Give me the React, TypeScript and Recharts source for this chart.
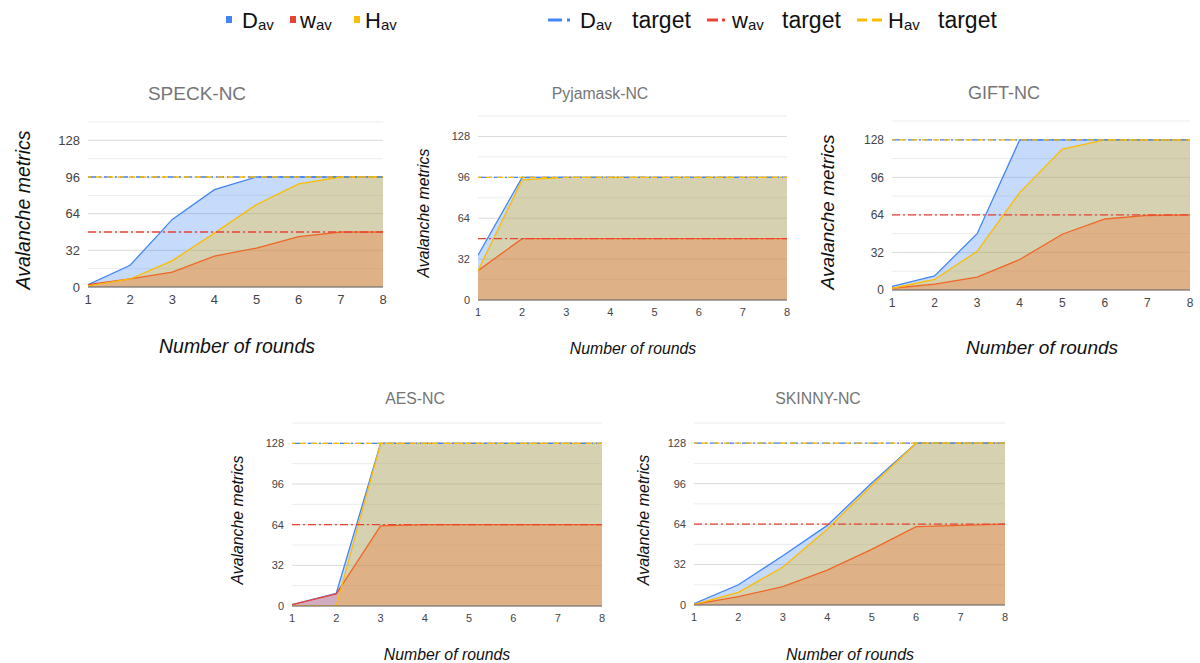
import React from 'react';
import { ComposedChart, Area, Line, XAxis, YAxis, CartesianGrid } from 'recharts';

const rounds = [1, 2, 3, 4, 5, 6, 7, 8];
const yTicks = [0, 32, 64, 96, 128];
const minorGrid = [16, 48, 80, 112, 144];

const speckD = [2, 19, 59, 85, 96, 96, 96, 96];
const speckW = [2, 7, 13, 27, 34, 44, 48, 48];
const speckH = [1, 7, 23, 47, 72, 90, 96, 96];
const speckTargets = [96, 48, 96];

const pyjD = [35, 96, 96, 96, 96, 96, 96, 96];
const pyjW = [23, 48, 48, 48, 48, 48, 48, 48];
const pyjH = [23, 94, 96, 96, 96, 96, 96, 96];
const pyjTargets = [96, 48, 96];

const giftD = [3, 12, 48, 128, 128, 128, 128, 128];
const giftW = [1.5, 5, 11, 26, 47.5, 60.5, 63.5, 64];
const giftH = [1.5, 9, 33, 83, 120, 128, 128, 128];
const giftTargets = [128, 64, 128];

const aesD = [1, 10, 128, 128, 128, 128, 128, 128];
const aesW = [1, 9.5, 63, 64, 64, 64, 64, 64];
const aesH = [0, 0, 128, 128, 128, 128, 128, 128];
const aesTargets = [128, 64, 128];

const skinnyD = [1, 16, 39, 63, 96.5, 128, 128, 128];
const skinnyW = [0.5, 6.6, 14.5, 27.6, 44, 62, 63, 64];
const skinnyH = [0.5, 10, 30, 60, 94.6, 128, 128, 128];
const skinnyTargets = [128, 64, 128];

const BLUE = '#4285f4';
const RED = '#ea4335';
const YELLOW = '#fbbc04';
const FONT = '"Liberation Sans", Arial, sans-serif';

const buildData = (D: number[], W: number[], H: number[], t: number[]) =>
  rounds.map((r, i) => ({ r, D: D[i], w: W[i], H: H[i], Dt: t[0], wt: t[1], Ht: t[2] }));

const panels = [
  { title: 'SPECK-NC', data: buildData(speckD, speckW, speckH, speckTargets), left: 88, right: 383, top: 122, bottom: 287, tickSize: 13, titleSize: 19, labelSize: 19.5, title_xy: [197, 93], ylab: [23, 210], xlab: [237, 346] },
  { title: 'Pyjamask-NC', data: buildData(pyjD, pyjW, pyjH, pyjTargets), left: 478, right: 787, top: 116, bottom: 300, tickSize: 11, titleSize: 15.8, labelSize: 15.8, title_xy: [600, 93], ylab: [423, 213], xlab: [633, 348] },
  { title: 'GIFT-NC', data: buildData(giftD, giftW, giftH, giftTargets), left: 892, right: 1190, top: 121, bottom: 290, tickSize: 12, titleSize: 18, labelSize: 19, title_xy: [1004, 93], ylab: [827, 212], xlab: [1042, 347] },
  { title: 'AES-NC', data: buildData(aesD, aesW, aesH, aesTargets), left: 292, right: 602, top: 423, bottom: 606, tickSize: 11, titleSize: 15.8, labelSize: 15.8, title_xy: [415, 398], ylab: [237, 520], xlab: [447, 654] },
  { title: 'SKINNY-NC', data: buildData(skinnyD, skinnyW, skinnyH, skinnyTargets), left: 694, right: 1005, top: 423, bottom: 605, tickSize: 11, titleSize: 15.8, labelSize: 16, title_xy: [818, 398], ylab: [643, 520], xlab: [850, 654] },
];

const ML = 50;
const XH = 26;
const MT = 4;
const MR = 4;

function Panel({ p }: { p: any }) {
  const w = p.right - p.left + ML + MR;
  const h = p.bottom - p.top + MT + XH;
  const tick = { fontSize: p.tickSize, fill: '#444', fontFamily: FONT };
  return (
    <div style={{ position: 'absolute', left: p.left - ML, top: p.top - MT }}>
      <ComposedChart width={w} height={h} data={p.data} margin={{ top: MT, right: MR, left: 0, bottom: 0 }}>
        <CartesianGrid vertical={false} horizontalValues={minorGrid} stroke="#ececec" />
        <CartesianGrid vertical={false} horizontalValues={yTicks} stroke="#dadada" />
        <XAxis dataKey="r" type="number" domain={[1, 8]} ticks={rounds} interval={0} tickLine={false}
          axisLine={{ stroke: '#666' }} tick={tick} height={XH} allowDataOverflow />
        <YAxis type="number" domain={[0, 144]} ticks={yTicks} interval={0} tickLine={false} axisLine={false}
          tick={tick} width={ML} allowDataOverflow />
        <Area type="linear" dataKey="D" stroke={BLUE} strokeWidth={1.3} fill={BLUE} fillOpacity={0.3} isAnimationActive={false} dot={false} activeDot={false} />
        <Area type="linear" dataKey="w" stroke={RED} strokeWidth={1.3} fill={RED} fillOpacity={0.3} isAnimationActive={false} dot={false} activeDot={false} />
        <Area type="linear" dataKey="H" stroke={YELLOW} strokeWidth={1.3} fill={YELLOW} fillOpacity={0.3} isAnimationActive={false} dot={false} activeDot={false} />
        <Line type="linear" dataKey="Dt" stroke={BLUE} strokeWidth={1.3} strokeDasharray="8 3 2 3" dot={false} activeDot={false} isAnimationActive={false} />
        <Line type="linear" dataKey="wt" stroke={RED} strokeWidth={1.3} strokeDasharray="8 3 2 3" dot={false} activeDot={false} isAnimationActive={false} />
        <Line type="linear" dataKey="Ht" stroke={YELLOW} strokeWidth={1.3} strokeDasharray="6 5" strokeDashoffset={3} dot={false} activeDot={false} isAnimationActive={false} />
      </ComposedChart>
    </div>
  );
}

function Sym({ x, y, main }: { x: number; y: number; main: string }) {
  return (
    <text x={x} y={y} fontFamily={FONT} fill="#111">
      <tspan fontSize={22}>{main}</tspan>
      <tspan fontSize={15} dy={2}>av</tspan>
    </text>
  );
}

export default function App() {
  return (
    <div style={{ position: 'absolute', left: 0, top: 0, width: 1200, height: 663, background: '#fff', overflow: 'hidden' }}>
      {panels.map((p) => (
        <Panel key={p.title} p={p} />
      ))}
      <svg width={1200} height={663} style={{ position: 'absolute', left: 0, top: 0, pointerEvents: 'none' }}>
        <rect x={226} y={16} width={6} height={7} fill={BLUE} />
        <Sym x={242} y={28} main="D" />
        <rect x={290} y={16} width={6} height={7} fill={RED} />
        <Sym x={300} y={28} main="w" />
        <rect x={354} y={16} width={6} height={7} fill={YELLOW} />
        <Sym x={365} y={28} main="H" />

        <line x1={548} y1={20} x2={562} y2={20} stroke={BLUE} strokeWidth={3} />
        <line x1={567} y1={20} x2={570} y2={20} stroke={BLUE} strokeWidth={3} />
        <Sym x={580} y={28} main="D" />
        <text x={632} y={28} fontFamily={FONT} fontSize={23} fill="#111">target</text>

        <line x1={707} y1={20} x2={718} y2={20} stroke={RED} strokeWidth={3} />
        <line x1={722} y1={20} x2={725} y2={20} stroke={RED} strokeWidth={3} />
        <Sym x={732} y={28} main="w" />
        <text x={782} y={28} fontFamily={FONT} fontSize={23} fill="#111">target</text>

        <line x1={857} y1={20} x2={867} y2={20} stroke={YELLOW} strokeWidth={3} />
        <line x1={872} y1={20} x2={882} y2={20} stroke={YELLOW} strokeWidth={3} />
        <Sym x={888} y={28} main="H" />
        <text x={938} y={28} fontFamily={FONT} fontSize={23} fill="#111">target</text>

        {panels.map((p) => (
          <g key={p.title} fontFamily={FONT}>
            <text x={p.title_xy[0]} y={p.title_xy[1]} textAnchor="middle" dominantBaseline="central" fontSize={p.titleSize} fill="#757575">{p.title}</text>
            <text x={p.ylab[0]} y={p.ylab[1]} textAnchor="middle" dominantBaseline="central" fontSize={p.labelSize} fontStyle="italic" fill="#111" transform={`rotate(-90 ${p.ylab[0]} ${p.ylab[1]})`}>Avalanche metrics</text>
            <text x={p.xlab[0]} y={p.xlab[1]} textAnchor="middle" dominantBaseline="central" fontSize={p.labelSize} fontStyle="italic" fill="#111">Number of rounds</text>
          </g>
        ))}
      </svg>
    </div>
  );
}
